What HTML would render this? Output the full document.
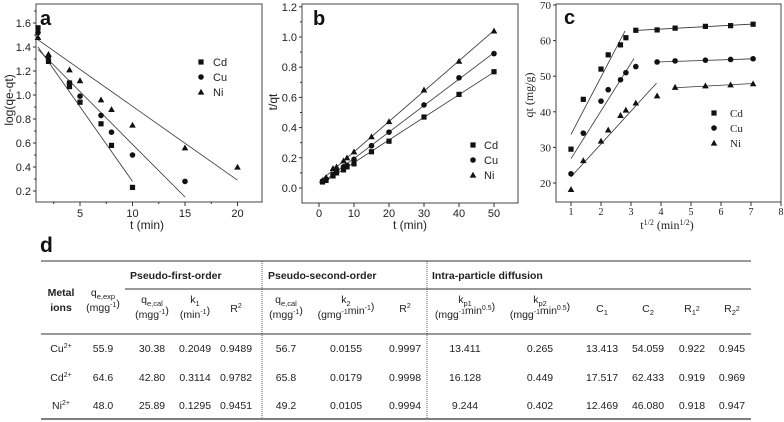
<!DOCTYPE html>
<html><head><meta charset="utf-8"><style>
body{margin:0;background:#fff;width:784px;height:422px;overflow:hidden}
svg{display:block}
text{font-family:"Liberation Sans",sans-serif;fill:#222}
.serif{font-family:"Liberation Serif",serif}
.tk{font-size:11px}
.at{font-size:12px}
.tb{font-size:10.5px}
.hb{font-size:10.5px;font-weight:bold}
</style></head><body>
<svg id="s" width="784" height="422" viewBox="0 0 784 422"></svg>
<script>
// ---------- data ----------
const tA = [1,2,4,5,7,8,10,15,20];
const aCd = [1.56,1.28,1.07,0.94,0.76,0.58,0.23];
const aCdT = [1,2,4,5,7,8,10];
const aCu = [1.52,1.32,1.10,0.99,0.83,0.69,0.50,0.28];
const aCuT = [1,2,4,5,7,8,10,15];
const aNi = [1.48,1.34,1.21,1.12,0.96,0.88,0.75,0.56,0.40];
const aNiT = [1,2,4,5,7,8,10,15,20];
const aFitStart = [1.40,1.38,1.46];
const aFitEnd = [0.28,0.15,0.29];
const aFitX = [10,15,20];

const tB = [1,2,4,5,7,8,10,15,20,30,40,50];
const bCd = [0.04,0.05,0.08,0.10,0.12,0.14,0.16,0.24,0.31,0.47,0.62,0.77];
const bCu = [0.045,0.06,0.09,0.11,0.14,0.15,0.19,0.28,0.37,0.55,0.73,0.89];
const bNi = [0.05,0.07,0.13,0.14,0.18,0.20,0.24,0.34,0.44,0.65,0.84,1.04];

const sqT = [1,1.41,2,2.24,2.65,2.83,3.16,3.87,4.47,5.48,6.32,7.07];
const cCd = [29.5,43.5,52,56,58.8,60.8,62.9,63.0,63.5,64.0,64.2,64.6];
const cCu = [22.6,34,43,46.2,49,51,52.7,54,54.3,54.5,54.7,54.9];
const cNi = [18.2,26.3,31.8,34.9,39,40.5,42.5,44.5,46.9,47.3,47.6,47.9];
const kp1 = [16.128,13.411,9.244];
const C1 = [17.517,13.413,12.469];
const seg1End = [2.8,3.1,3.85];
const kp2 = [0.46,0.28,0.46];
const C2 = [61.4,52.9,44.7];
const seg2Start = [3.16,3.87,4.47];

const aYTicks = [0.2,0.4,0.6,0.8,1.0,1.2,1.4,1.6];
const aXTicks = [5,10,15,20];
const bYTicks = [0.0,0.2,0.4,0.6,0.8,1.0,1.2];
const bXTicks = [0,10,20,30,40,50];
const cYTicks = [20,30,40,50,60,70];
const cXTicks = [1,2,3,4,5,6,7,8];

// ---------- helpers ----------
const S = document.getElementById('s');
const NS = 'http://www.w3.org/2000/svg';
function mk(tag, at, txt){const e=document.createElementNS(NS,tag);for(const k in at)e.setAttribute(k,at[k]);if(txt!==undefined)e.textContent=txt;S.appendChild(e);return e;}
function ln(x1,y1,x2,y2,w,name){const e=mk('line',{x1,y1,x2,y2,stroke:'#333','stroke-width':w||1});

return e;}
function marker(type,x,y,name){let e;
 if(type==0) e=mk('rect',{x:x-2.6,y:y-2.6,width:5.2,height:5.2,fill:'#111'});
 else if(type==1) e=mk('circle',{cx:x,cy:y,r:2.8,fill:'#111'});
 else e=mk('polygon',{points:`${x},${y-3.3} ${x-3.3},${y+2.6} ${x+3.3},${y+2.6}`,fill:'#111'});
 
 }
function txt(x,y,s,cls,anchor,name,extra){const e=mk('text',Object.assign({x,y,'class':cls,'text-anchor':anchor||'middle'},extra||{}),s);
 
 return e;}

function frame(l,r,t,b,name){const e=mk('rect',{x:l,y:t,width:r-l,height:b-t,fill:'none',stroke:'#444','stroke-width':1});
 
 }

// ---------- panel a ----------
const ax=x=>27.5+10.5*x, ay=y=>23+(1.6-y)*120;
frame(36,262,4,202,'panel-a-frame');
aYTicks.forEach(v=>{ln(33,ay(v),36,ay(v),1,'a-y-tick');txt(31,ay(v)+4,v.toFixed(1),'tk','end','a-y-tick-label');});
aYTicks.forEach(v=>{ln(34,ay(v+0.1),36,ay(v+0.1),1,'a-y-minor-tick');});
aXTicks.forEach(v=>{ln(ax(v),202,ax(v),206,1,'a-x-tick');txt(ax(v),217,String(v),'tk','middle','a-x-tick-label');});
[2.5,7.5,12.5,17.5].forEach(v=>ln(ax(v),202,ax(v),204,1,'a-x-minor-tick'));
txt(147,229,'t (min)','at','middle','a-x-axis-title');
txt(13,100,'log(qe-qt)','at','middle','a-y-axis-title',{transform:'rotate(-90 13 100)'});
txt(40,25,'a','', 'start','a-panel-label',{style:'font-size:20px;font-weight:bold;fill:#111'});
for(let i=0;i<3;i++) ln(ax(1),ay(aFitStart[i]),ax(aFitX[i]),ay(aFitEnd[i]),0.8,'a-fit-line');
aCdT.forEach((t,i)=>marker(0,ax(t),ay(aCd[i]),'a-cd-point'));
marker(0,ax(4),ay(1.10),'a-cd-point');
aCuT.forEach((t,i)=>marker(1,ax(t),ay(aCu[i]),'a-cu-point'));
aNiT.forEach((t,i)=>marker(2,ax(t),ay(aNi[i]),'a-ni-point'));
['Cd','Cu','Ni'].forEach((s,i)=>{marker(i,201,62+i*15,'a-legend-marker');txt(213,66+i*15,s,'tk','start','a-legend-entry');});

// ---------- panel b ----------
const bx=x=>319+3.5*x, by=y=>188-y*151;
frame(302,518,4,203,'panel-b-frame');
bYTicks.forEach(v=>{ln(299,by(v),302,by(v),1,'b-y-tick');txt(297,by(v)+4,v.toFixed(1),'tk','end','b-y-tick-label');});
bYTicks.slice(0,6).forEach(v=>ln(300,by(v+0.1),302,by(v+0.1),1,'b-y-minor-tick'));
bXTicks.forEach(v=>{ln(bx(v),203,bx(v),207,1,'b-x-tick');txt(bx(v),217,String(v),'tk','middle','b-x-tick-label');});
txt(410,229,'t (min)','at','middle','b-x-axis-title');
txt(277,102,'t/qt','at','middle','b-y-axis-title',{transform:'rotate(-90 277 102)'});
txt(313,25,'b','','start','b-panel-label',{style:'font-size:20px;font-weight:bold;fill:#111'});
[bCd,bCu,bNi].forEach((arr,k)=>{
 const n=arr.length;let sx=0,sy=0,sxx=0,sxy=0;
 for(let i=0;i<n;i++){sx+=tB[i];sy+=arr[i];sxx+=tB[i]*tB[i];sxy+=tB[i]*arr[i];}
 const m=(n*sxy-sx*sy)/(n*sxx-sx*sx),c=(sy-m*sx)/n;
 ln(bx(1),by(c+m),bx(50),by(c+m*50),0.8,'b-fit-line');
 arr.forEach((v,i)=>marker(k,bx(tB[i]),by(v),['b-cd-point','b-cu-point','b-ni-point'][k]));
});
['Cd','Cu','Ni'].forEach((s,i)=>{marker(i,473,145+i*15,'b-legend-marker');txt(484,149+i*15,s,'tk','start','b-legend-entry');});

// ---------- panel c ----------
const cx=x=>541+30*x, cy=y=>183-(y-20)*3.56;
frame(556,781,4,202,'panel-c-frame');
cYTicks.forEach(v=>{ln(553,cy(v),556,cy(v),1,'c-y-tick');txt(551,cy(v)+4,String(v),'tk serif','end','c-y-tick-label');});
cXTicks.forEach(v=>{ln(cx(v),202,cx(v),206,1,'c-x-tick');txt(cx(v),215,String(v),'tk serif','middle','c-x-tick-label',{style:'font-size:10px'});});
const ct=txt(667,229,'','at serif','middle','c-x-axis-title');
ct.innerHTML='t<tspan dy="-4" font-size="8">1/2</tspan><tspan dy="4"> (min</tspan><tspan dy="-4" font-size="8">1/2</tspan><tspan dy="4">)</tspan>';
txt(533,95,'qt (mg/g)','at serif','middle','c-y-axis-title',{transform:'rotate(-90 533 95)'});
txt(564,24,'c','','start','c-panel-label',{style:'font-size:20px;font-weight:bold;fill:#111'});
for(let k=0;k<3;k++){
 ln(cx(1),cy(kp1[k]+C1[k]),cx(seg1End[k]),cy(kp1[k]*seg1End[k]+C1[k]),0.8,'c-fit-line-1');
 ln(cx(seg2Start[k]),cy(kp2[k]*seg2Start[k]+C2[k]),cx(7.07),cy(kp2[k]*7.07+C2[k]),0.8,'c-fit-line-2');
}
[cCd,cCu,cNi].forEach((arr,k)=>arr.forEach((v,i)=>marker(k,cx(sqT[i]),cy(v),['c-cd-point','c-cu-point','c-ni-point'][k])));
['Cd','Cu','Ni'].forEach((s,i)=>{marker(i,714,113+i*15,'c-legend-marker');txt(730,117+i*15,s,'tk serif','start','c-legend-entry');});

// ---------- table d ----------
txt(40,252,'d','','start','table-d-label',{style:'font-size:21px;font-weight:bold;fill:#111'});
ln(41,261,751,261,1,'table-top-rule');
ln(125,289,751,289,1,'table-group-rule');
ln(41,334,751,334,1,'table-header-rule');
ln(41,419,751,419,1.2,'table-bottom-rule');
[262,427].forEach(x=>{const e=ln(x,261,x,419,0.8,'table-dotted-divider');e.setAttribute('stroke-dasharray','1,1');});
txt(130,279,'Pseudo-first-order','hb','start','group-header-pfo');
txt(268,279,'Pseudo-second-order','hb','start','group-header-pso');
txt(432,279,'Intra-particle diffusion','hb','start','group-header-ipd');
txt(61,296,'Metal','hb','middle','metal-ions-header');
txt(61,311,'ions','hb','middle','metal-ions-header-2');
function hdr(x,y,html,name){const e=txt(x,y,'','tb','middle',name);e.innerHTML=html;}
const sub=(s)=>`<tspan dy="3" font-size="7.5">${s}</tspan><tspan dy="-3"></tspan>`;
const sup=(s)=>`<tspan dy="-4" font-size="7">${s}</tspan><tspan dy="4"></tspan>`;
hdr(103,296,'q'+sub('e,exp'),'qe-exp-header');hdr(103,311,'(mgg'+sup('-1')+')','qe-exp-unit');
hdr(152,303,'q'+sub('e,cal'),'pfo-qe-header');hdr(152,318,'(mgg'+sup('-1')+')','pfo-qe-unit');
hdr(195,303,'k'+sub('1'),'k1-header');hdr(195,318,'(min'+sup('-1')+')','k1-unit');
hdr(236,312,'R'+sup('2'),'pfo-r2-header');
hdr(286,303,'q'+sub('e,cal'),'pso-qe-header');hdr(286,318,'(mgg'+sup('-1')+')','pso-qe-unit');
hdr(346,303,'k'+sub('2'),'k2-header');hdr(346,318,'(gmg'+sup('-1')+'min'+sup('-1')+')','k2-unit');
hdr(405,312,'R'+sup('2'),'pso-r2-header');
hdr(465,303,'k'+sub('p1'),'kp1-header');hdr(465,318,'(mgg'+sup('-1')+'min'+sup('0.5')+')','kp1-unit');
hdr(540,303,'k'+sub('p2'),'kp2-header');hdr(540,318,'(mgg'+sup('-1')+'min'+sup('0.5')+')','kp2-unit');
hdr(602,312,'C'+sub('1'),'c1-header');
hdr(648,312,'C'+sub('2'),'c2-header');
hdr(692,312,'R'+sub('1')+sup('2'),'r1-header');
hdr(732,312,'R'+sub('2')+sup('2'),'r2-header');
const colX=[61,103,152,195,236,286,346,405,465,540,602,648,692,732];
const rows=[
 ['Cu'+sup('2+'),'55.9','30.38','0.2049','0.9489','56.7','0.0155','0.9997','13.411','0.265','13.413','54.059','0.922','0.945'],
 ['Cd'+sup('2+'),'64.6','42.80','0.3114','0.9782','65.8','0.0179','0.9998','16.128','0.449','17.517','62.433','0.919','0.969'],
 ['Ni'+sup('2+'),'48.0','25.89','0.1295','0.9451','49.2','0.0105','0.9994','9.244','0.402','12.469','46.080','0.918','0.947']];
const rowY=[352,381,409];
rows.forEach((r,ri)=>r.forEach((c,ci)=>hdr(colX[ci],rowY[ri],c,'table-cell')));
</script>
</body></html>
